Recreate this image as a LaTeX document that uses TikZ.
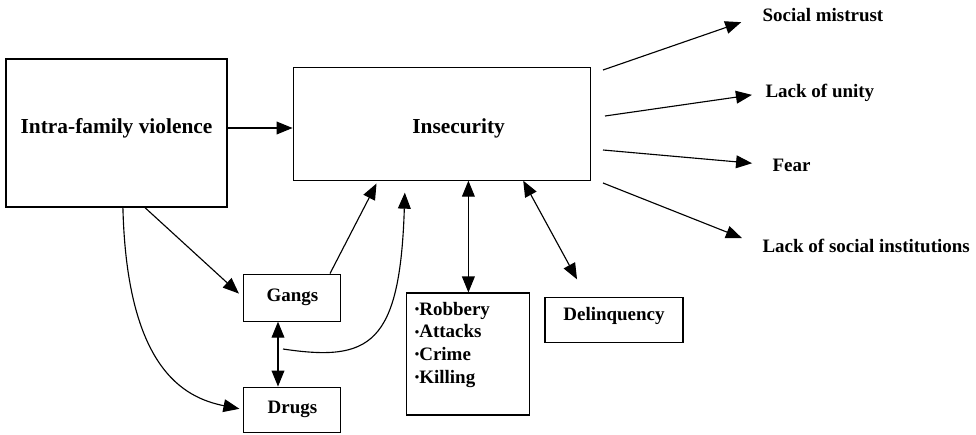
\documentclass[tikz,border=0pt]{standalone}
\usepackage{fontspec}
\setmainfont{Liberation Serif}
\usetikzlibrary{arrows.meta, positioning}
\tikzset{> = { Triangle[length = 4mm, width = 3.2mm] }}
\newcommand{\dotitem}{\raisebox{1.3pt}{\fontsize{9}{9}\selectfont\textbullet}}

\begin{document}
\begin{tikzpicture}[->, line width = 0.8pt, font = \bfseries\fontsize{13.5}{16.1}\selectfont, box/.style = { draw, rectangle, inner sep = 0pt }, big/.style = { font = \bfseries\fontsize{15.2}{18}\selectfont }, tag/.style = { anchor = west, inner sep = 0pt }]
		\useasboundingbox (0, 0) rectangle (24.4, -10.85);

		\node [box, big, minimum width = 5.525cm, minimum height = 3.7cm, text height = 5pt, text depth = 4.5pt] (fam) at (2.9125, -3.325) {Intra-family violence};
		\node [box, big, minimum width = 7.425cm, minimum height = 2.825cm, text height = 14.5pt, text depth = 0pt] (insec) at (11.04, -3.09) {\hspace*{0.85cm}Insecurity};
		\node [box, minimum width = 2.425cm, minimum height = 1.175cm]      (gangs)  at (7.31, -7.44)    {Gangs};
		\node [box, minimum width = 2.425cm, minimum height = 1.125cm]      (drugs)  at (7.31, -10.24)   {Drugs};
		\node [box, minimum width = 3.075cm, minimum height = 3.05cm, inner xsep = 0.2cm, text width = 2.675cm, align = left] (crime) at (11.71, -8.85)
			{\dotitem Robbery\\ \dotitem Attacks\\ \dotitem Crime\\ \dotitem Killing\\ \mbox{}};
		\node [box, minimum width = 3.45cm, minimum height = 1.125cm, text height = 5pt, text depth = 3.9pt] (delinq) at (15.35, -7.99) {Delinquency};

		\node [tag] (mistrust) at (19.05, -0.375) {Social mistrust};
		\node [tag] (unity)    at (19.125, -2.325) {Lack of unity};
		\node [tag] (fear)     at (19.3, -4.125)  {Fear};
		\node [tag] (instit)   at (19.05, -6.15)  {Lack of social institutions};

		\coordinate (o1) at (15.075, -1.75);
		\coordinate (o2) at (15.125, -2.9);
		\coordinate (o3) at (15.075, -3.75);
		\coordinate (o4) at (15.075, -4.575);
		\coordinate (gd) at (7.075, -8.725);

		\draw (fam.east |- 0, -3.2) -- (insec.west |- 0, -3.2);
		\draw [shorten > = 1.5mm] ([xshift = 0.71cm]fam.south) -- (gangs.west);
		\draw [shorten > = 1mm] ([xshift = 0.16cm]fam.south) .. controls +(0.1, -4) and +(-1.5, 0.3) .. (drugs.west);
		\draw [shorten > = 0.8mm] ([xshift = 0.94cm]gangs.north) -- ([xshift = -1.59cm]insec.south);
		\draw [<->] ([xshift = -0.36cm]gangs.south) -- ([xshift = -0.36cm]drugs.north);
		\draw [shorten > = 0.3cm] (gd) .. controls (9.25, -9.05) and (10.0, -8.625) .. ([xshift = -0.91cm]insec.south);
		\draw [<->] (crime.north |- insec.south) -- (crime.north);
		\draw [<->, shorten > = 0.49cm] ([xshift = 2.04cm]insec.south) -- ([xshift = -0.69cm]delinq.north);

		\draw [shorten > = 0.55cm] (o1) -- (mistrust.west);
		\draw [shorten > = 0.33cm] (o2) -- (unity.west);
		\draw [shorten > = 0.5cm]  (o3) -- (fear.west);
		\draw [shorten > = 0.54cm] (o4) -- (instit.west);
	\end{tikzpicture}
\end{document}
